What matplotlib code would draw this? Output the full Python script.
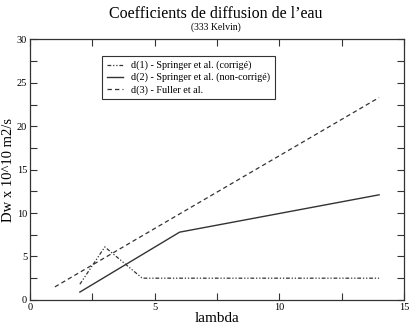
import matplotlib
matplotlib.use("Agg")
import matplotlib.pyplot as plt
from matplotlib.ticker import MultipleLocator

plt.rcParams['font.family'] = ['Liberation Serif', 'DejaVu Serif']

# Data
lam_d1 = [2.0, 3.0, 4.5, 14.0]
d1 = [1.8, 6.1, 2.5, 2.5]

lam_d2 = [2.0, 6.0, 14.0]
d2 = [0.9, 7.8, 12.1]

lam_d3 = [1.0, 6.0, 14.0]
d3 = [1.5, 9.9, 23.3]

labels = ["d(1) - Springer et al. (corrigé)",
          "d(2) - Springer et al. (non-corrigé)",
          "d(3) - Fuller et al."]

fig = plt.figure(figsize=(4.11, 3.31), dpi=100)
ax = fig.add_axes([0.073, 0.094, 0.910, 0.787])

col = '#333333'
ax.plot(lam_d1, d1, color=col, lw=0.9, linestyle=(0, (3, 1.5, 1, 1.5, 1, 1.5)), label=labels[0])
ax.plot(lam_d2, d2, color=col, lw=1.0, linestyle='-', label=labels[1])
ax.plot(lam_d3, d3, color=col, lw=0.9, linestyle=(0, (3.5, 2.5)), label=labels[2])

ax.set_xlim(0, 15)
ax.set_ylim(0, 30)
ax.xaxis.set_major_locator(MultipleLocator(5))
ax.xaxis.set_minor_locator(MultipleLocator(2.5))
ax.yaxis.set_major_locator(MultipleLocator(5))
ax.yaxis.set_minor_locator(MultipleLocator(2.5))
ax.tick_params(which='both', direction='in', top=True, right=True,
               labelsize=7.5, color=col, width=0.8, pad=2)
ax.tick_params(which='both', length=5)
for s in ax.spines.values():
    s.set_color(col)
    s.set_linewidth(0.9)

ax.set_xlabel('lambda', fontsize=11, labelpad=0)
ax.set_ylabel('Dw x 10^10 m2/s', fontsize=10.5)
ax.yaxis.set_label_coords(-0.04, 0.5)

fig.text(0.525, 0.945, "Coefficients de diffusion de l\u2019eau", ha='center', fontsize=11.5)
fig.text(0.525, 0.91, "(333 Kelvin)", ha='center', fontsize=7)

leg = ax.legend(loc='upper left', bbox_to_anchor=(0.18, 0.955), fontsize=7.3,
                handlelength=1.6, handletextpad=0.8, borderpad=0.45,
                labelspacing=0.25, frameon=True, fancybox=False, framealpha=1)
leg.get_frame().set_edgecolor(col)
leg.get_frame().set_linewidth(0.8)

fig.savefig('out.png', dpi=100)
